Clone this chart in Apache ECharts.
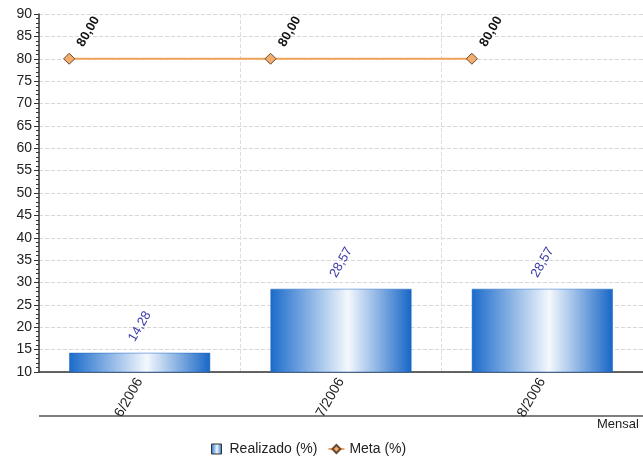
<!DOCTYPE html>
<html><head><meta charset="utf-8">
<script src="https://cdn.jsdelivr.net/npm/echarts@6/dist/echarts.min.js"></script>
<style>html,body{margin:0;padding:0;background:#fff}#c{width:643px;height:462px}</style>
</head><body><div id="c"></div>
<script>
const categories = ['6/2006', '7/2006', '8/2006'];
const realizado = [14.28, 28.57, 28.57];
const meta = [80, 80, 80];
const seriesNames = ['Realizado (%)', 'Meta (%)'];
const axisTitle = 'Mensal';

const barFrac = 0.7;
const fmt = v => v.toFixed(2).replace('.', ',');
const chart = echarts.init(document.getElementById('c'));
chart.setOption({
  animation: false,
  textStyle: { fontFamily: 'Liberation Sans, Arial, sans-serif' },
  grid: { left: 39, top: 14, bottom: 90, width: 606 },
  xAxis: [{
    type: 'category', data: categories,
    axisLine: { lineStyle: { color: '#333', width: 1.5 } },
    axisTick: { inside: true, length: 5, lineStyle: { color: '#333' } },
    axisLabel: { rotate: 60, color: '#222', fontSize: 14, margin: 7 },
    splitLine: { show: true, lineStyle: { type: 'dashed', color: '#ddd' } }
  }, {
    type: 'value', min: -0.5, max: 2.5, show: false
  }],
  yAxis: {
    type: 'value', min: 10, max: 90, interval: 5,
    axisLine: { show: true, onZero: false, lineStyle: { color: '#333', width: 1.5 } },
    axisTick: { show: true, length: 5, lineStyle: { color: '#333' } },
    minorTick: { show: true, splitNumber: 5, length: 3, lineStyle: { color: '#333' } },
    axisLabel: { color: '#222', fontSize: 14, margin: 7 },
    splitLine: { lineStyle: { type: 'dashed', color: '#d8d8d8' } }
  },
  legend: {
    bottom: 1, left: 206, itemWidth: 16, itemHeight: 10, itemGap: 10,
    textStyle: { color: '#222', fontSize: 14 },
    data: [
      { name: seriesNames[0], icon: 'path://M0,0H10V10H0Z', itemStyle: { borderColor: '#333', borderWidth: 1 } },
      { name: seriesNames[1] }
    ]
  },
  series: [{
    name: seriesNames[0], type: 'bar', data: realizado,
    barWidth: (barFrac * 100) + '%',
    itemStyle: {
      color: new echarts.graphic.LinearGradient(0, 0, 1, 0, [
        { offset: 0, color: '#1b6bcb' },
        { offset: 0.55, color: '#f4f8fd' },
        { offset: 1, color: '#1766c6' }
      ]),
      borderColor: '#1a64c0', borderWidth: 0.5
    },
    label: {
      show: true, position: 'top', distance: 0, offset: [23, -13],
      rotate: 60, align: 'center', verticalAlign: 'middle',
      color: '#3a3aa8', fontSize: 13, formatter: p => fmt(p.value)
    }
  }, {
    name: seriesNames[1], type: 'line', xAxisIndex: 1,
    data: meta.map((v, i) => [i - barFrac / 2, v]),
    symbol: 'diamond', symbolSize: 11,
    lineStyle: { color: '#f0a45a', width: 2 },
    itemStyle: { color: '#f3ad6c', borderColor: '#6a4a30', borderWidth: 1 },
    label: {
      show: true, position: 'top', distance: 0, offset: [28, 6],
      rotate: 60, align: 'center', verticalAlign: 'middle',
      color: '#111', fontWeight: 'bold', fontSize: 13,
      formatter: p => fmt(p.value[1])
    }
  }],
  graphic: [
    { type: 'line', shape: { x1: 39, y1: 416, x2: 643, y2: 416 }, style: { stroke: '#555', lineWidth: 1.5 } },
    { type: 'text', left: 597, top: 418, style: { text: axisTitle, fill: '#222', fontSize: 13, fontFamily: 'Liberation Sans, Arial, sans-serif' } }
  ]
});
</script></body></html>
